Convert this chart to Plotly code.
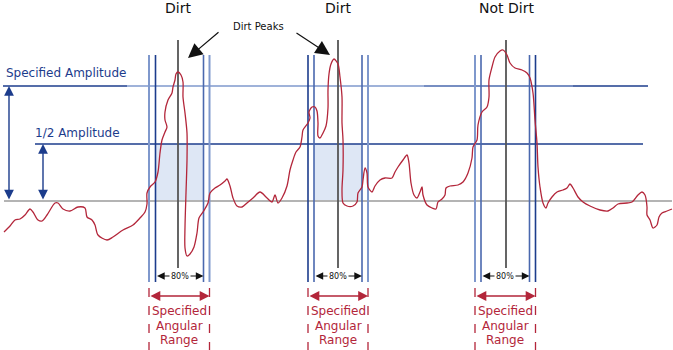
import plotly.graph_objects as go

# ---------------- data (diagram coordinates, px space) ----------------
wave_x = [4, 10, 15, 20, 25, 30, 33, 38, 42, 47, 55, 58, 63, 70, 78, 85, 87, 92, 95, 98, 107, 113, 123, 133,
          140, 145, 147, 147, 150, 155, 158, 160, 162, 165, 167, 165, 165, 168, 172, 173, 175, 176, 178, 181,
          183, 183, 185, 187, 187, 186, 185, 185, 187, 190, 194, 197, 199, 203, 208, 210, 215, 220, 225, 227,
          230, 233, 237, 242, 247, 253, 260, 267, 272, 275, 278, 282, 287, 290, 293, 296, 300, 302, 303, 308,
          310, 309, 312, 315, 317, 318, 318, 320, 323, 326, 328, 328, 329, 331, 334, 338, 340, 342, 342, 343,
          343, 342, 343, 347, 353, 357, 358, 362, 363, 365, 367, 368, 372, 375, 380, 385, 392, 395, 398, 403,
          407, 409, 411, 414, 417, 420, 422, 423, 427, 432, 436, 438, 442, 445, 446, 450, 458, 463, 468, 472,
          473, 477, 478, 482, 487, 489, 489, 492, 495, 500, 503, 507, 510, 515, 522, 527, 530, 533, 535, 537,
          538, 540, 543, 546, 548, 552, 557, 563, 567, 570, 573, 578, 583, 590, 600, 608, 613, 618, 627, 632,
          638, 642, 645, 647, 647, 650, 653, 657, 659, 662, 667, 672]
wave_y = [232, 226, 220, 219, 215, 209, 212, 220, 221, 215, 203, 203, 209, 211, 207, 208, 217, 220, 225, 235,
          240, 237, 230, 225, 218, 212, 204, 193, 187, 182, 172, 153, 140, 132, 127, 120, 112, 100, 93, 87,
          80, 74, 72, 75, 82, 97, 113, 133, 160, 193, 227, 248, 256, 254, 247, 233, 218, 212, 203, 193, 188,
          185, 181, 179, 186, 198, 206, 207, 203, 198, 192, 198, 202, 195, 203, 198, 186, 170, 160, 152, 147,
          137, 130, 123, 118, 112, 107, 107, 111, 123, 136, 138, 133, 126, 108, 90, 74, 64, 59, 64, 77, 97,
          123, 140, 170, 190, 203, 206, 206, 202, 193, 187, 180, 168, 173, 187, 192, 186, 180, 178, 178, 172,
          167, 160, 155, 163, 183, 195, 198, 192, 187, 195, 205, 208, 209, 202, 199, 195, 188, 186, 185, 182,
          173, 158, 147, 140, 125, 112, 107, 97, 80, 67, 57, 51, 50, 55, 63, 68, 70, 73, 78, 93, 120, 143, 167,
          187, 203, 208, 203, 197, 192, 190, 188, 184, 188, 197, 202, 206, 210, 211, 208, 204, 203, 202, 195,
          192, 195, 207, 215, 220, 228, 225, 217, 213, 211, 209]

window_labels = ["Dirt", "Dirt", "Not Dirt"]
window_center = [178, 338, 506]
outer_left = [149, 308, 475]
inner_left = [155.5, 314, 481]
inner_right = [203.5, 362, 529.5]
outer_right = [209.5, 368, 535.5]
shaded = [True, True, False]

amp_y = 86
half_y = 144
base_y = 201

NAVY = "#1c3c8c"
LIGHT = "#7f98cc"
MID = "#4a68ae"
RED = "#b3263a"

# colours of the four blue verticals per window (outer-left, inner-left, inner-right, outer-right)
vcolors = [[LIGHT, NAVY, MID, LIGHT],
           [NAVY, MID, MID, LIGHT],
           [LIGHT, MID, MID, NAVY]]

fig = go.Figure()
shapes = []
ann = []

# shaded half-amplitude zones
for i in range(3):
    if shaded[i]:
        shapes.append(dict(type="rect", x0=inner_left[i], x1=inner_right[i], y0=half_y, y1=base_y,
                           fillcolor="#dee7f5", line_width=0, layer="below"))

# horizontal reference lines
shapes.append(dict(type="line", x0=4, x1=672, y0=base_y, y1=base_y,
                   line=dict(color="#b4b4b4", width=2), layer="below"))
shapes.append(dict(type="line", x0=35, x1=643, y0=half_y, y1=half_y,
                   line=dict(color=NAVY, width=1.3), layer="below"))
for (a, b, c) in [(3, 127, NAVY), (127, 424, LIGHT), (424, 573, MID), (573, 648, NAVY)]:
    shapes.append(dict(type="line", x0=a, x1=b, y0=amp_y, y1=amp_y,
                       line=dict(color=c, width=1.5), layer="below"))

# window verticals
for i in range(3):
    xs = [outer_left[i], inner_left[i], inner_right[i], outer_right[i]]
    for k, xv in enumerate(xs):
        shapes.append(dict(type="line", x0=xv, x1=xv, y0=55, y1=282,
                           line=dict(color=vcolors[i][k], width=1.6 if vcolors[i][k] != LIGHT else 2),
                           layer="below"))
    shapes.append(dict(type="line", x0=window_center[i], x1=window_center[i], y0=40, y1=268,
                       line=dict(color="#555555", width=1.8), layer="below"))
    for xv in (outer_left[i], outer_right[i]):
        shapes.append(dict(type="line", x0=xv, x1=xv, y0=288, y1=350,
                           line=dict(color=RED, width=1.3, dash="dash"), layer="below"))
    # titles
    ann.append(dict(x=window_center[i], y=8, text=window_labels[i], showarrow=False,
                    font=dict(size=14, color="#111111")))
    # 80% arrow
    ann.append(dict(x=inner_right[i], y=276, ax=inner_left[i], ay=276, axref="x", ayref="y",
                    text="", showarrow=True, arrowhead=2, startarrowhead=2, arrowside="end+start",
                    arrowsize=1.4, startarrowsize=1.4, arrowwidth=1.1, arrowcolor="#111111"))
    ann.append(dict(x=(inner_left[i] + inner_right[i]) / 2, y=276, text="80%", showarrow=False,
                    font=dict(size=8, color="#111111"), bgcolor="white", borderpad=1))
    # specified angular range arrow
    ann.append(dict(x=outer_right[i], y=296, ax=outer_left[i], ay=296, axref="x", ayref="y",
                    text="", showarrow=True, arrowhead=2, startarrowhead=2, arrowside="end+start",
                    arrowsize=1.4, startarrowsize=1.4, arrowwidth=1.4, arrowcolor=RED))
    cx = (outer_left[i] + outer_right[i]) / 2
    for line_text, yy in zip(["Specified", "Angular", "Range"], [311, 325.5, 340]):
        ann.append(dict(x=cx, y=yy, text=line_text, showarrow=False,
                        font=dict(size=12, color=RED)))

# amplitude arrows
ann.append(dict(x=9, y=amp_y, ax=9, ay=base_y, axref="x", ayref="y", text="", showarrow=True,
                arrowhead=2, startarrowhead=2, arrowside="end+start", arrowsize=1.4,
                startarrowsize=1.4, arrowwidth=1.4, arrowcolor=NAVY))
ann.append(dict(x=43, y=half_y, ax=43, ay=base_y, axref="x", ayref="y", text="", showarrow=True,
                arrowhead=2, startarrowhead=2, arrowside="end+start", arrowsize=1.4,
                startarrowsize=1.4, arrowwidth=1.4, arrowcolor=NAVY))
ann.append(dict(x=4, y=73, text="Specified Amplitude", showarrow=False, xanchor="left",
                font=dict(size=12, color=NAVY)))
ann.append(dict(x=33, y=133, text="1/2 Amplitude", showarrow=False, xanchor="left",
                font=dict(size=12, color=NAVY)))

# Dirt Peaks callout
ann.append(dict(x=258, y=26, text="Dirt Peaks", showarrow=False, font=dict(size=10, color="#111111")))
ann.append(dict(x=188, y=58, ax=220, ay=31, axref="x", ayref="y", text="", showarrow=True,
                arrowhead=2, arrowsize=2.4, arrowwidth=1.2, arrowcolor="#111111"))
ann.append(dict(x=330, y=55, ax=295, ay=32, axref="x", ayref="y", text="", showarrow=True,
                arrowhead=2, arrowsize=2.4, arrowwidth=1.2, arrowcolor="#111111"))

fig.add_trace(go.Scatter(x=wave_x, y=wave_y, mode="lines",
                         line=dict(color=RED, width=1.3, shape="spline", smoothing=0.8),
                         hoverinfo="skip"))

fig.update_layout(
    width=673, height=350, margin=dict(l=0, r=0, t=0, b=0),
    paper_bgcolor="white", plot_bgcolor="white", showlegend=False,
    font=dict(family="DejaVu Sans, Verdana, sans-serif"),
    xaxis=dict(range=[0, 673], visible=False, fixedrange=True),
    yaxis=dict(range=[350, 0], visible=False, fixedrange=True),
    shapes=shapes, annotations=ann,
)

fig.write_html("out.html")
